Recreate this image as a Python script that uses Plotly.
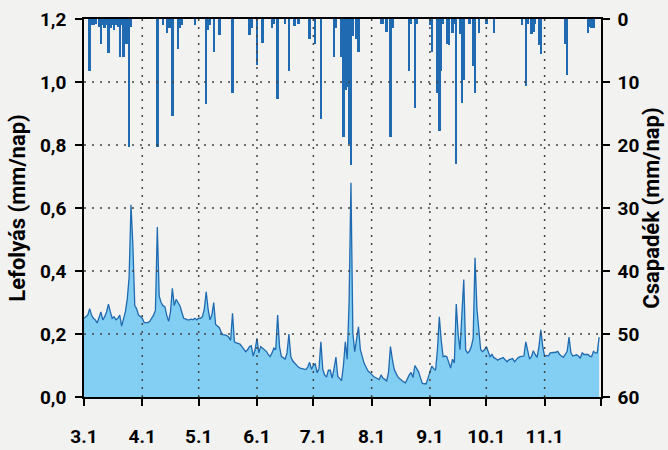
import plotly.graph_objects as go
import pandas as pd

# daily runoff (mm/day), 1 March .. 30 November
runoff = [
    0.25, 0.255, 0.26, 0.28, 0.26, 0.25, 0.245, 0.235, 0.25, 0.27,
    0.245, 0.255, 0.27, 0.295, 0.27, 0.25, 0.255, 0.245, 0.25, 0.26,
    0.225, 0.25, 0.27, 0.31, 0.38, 0.61, 0.48, 0.29, 0.28, 0.26,
    0.255, 0.25, 0.236, 0.235, 0.236, 0.24, 0.25, 0.26, 0.275, 0.54,
    0.32, 0.30, 0.29, 0.287, 0.26, 0.24, 0.27, 0.345, 0.29, 0.31,
    0.30, 0.29, 0.27, 0.25, 0.248, 0.245, 0.245, 0.247, 0.245, 0.25,
    0.245, 0.25, 0.25, 0.255, 0.28, 0.334, 0.28, 0.245, 0.26, 0.30,
    0.23, 0.225, 0.22, 0.205, 0.197, 0.197, 0.195, 0.19, 0.18, 0.266,
    0.175, 0.172, 0.17, 0.168, 0.16, 0.15, 0.144, 0.15, 0.16, 0.162,
    0.13, 0.15, 0.186, 0.14, 0.16, 0.155, 0.15, 0.145, 0.135, 0.128,
    0.14, 0.155, 0.15, 0.26, 0.16, 0.128, 0.125, 0.12, 0.14, 0.20,
    0.128, 0.115, 0.108, 0.10, 0.095, 0.092, 0.09, 0.088, 0.087, 0.095,
    0.11, 0.088, 0.10, 0.105, 0.077, 0.09, 0.175, 0.088, 0.07, 0.063,
    0.085, 0.085, 0.06, 0.09, 0.127, 0.065, 0.058, 0.052, 0.10, 0.175,
    0.12, 0.30, 0.68, 0.203, 0.144, 0.18, 0.223, 0.15, 0.125, 0.107,
    0.095, 0.083, 0.078, 0.07, 0.065, 0.062, 0.058, 0.055, 0.07, 0.06,
    0.056, 0.05, 0.08, 0.16, 0.12, 0.088, 0.075, 0.063, 0.058, 0.052,
    0.048, 0.045, 0.06, 0.07, 0.078, 0.062, 0.10, 0.09, 0.08, 0.06,
    0.043, 0.042, 0.042, 0.06, 0.077, 0.098, 0.09, 0.085, 0.15, 0.255,
    0.18, 0.128, 0.13, 0.128, 0.11, 0.092, 0.12, 0.108, 0.295, 0.20,
    0.15, 0.25, 0.373, 0.15, 0.14, 0.145, 0.16, 0.186, 0.442, 0.28,
    0.20, 0.15, 0.144, 0.15, 0.16, 0.145, 0.128, 0.135, 0.125, 0.122,
    0.117, 0.12, 0.122, 0.125, 0.118, 0.112, 0.118, 0.12, 0.122, 0.112,
    0.12, 0.125, 0.128, 0.13, 0.13, 0.175, 0.15, 0.12, 0.128, 0.147,
    0.135, 0.126, 0.16, 0.213, 0.16, 0.13, 0.132, 0.13, 0.14, 0.14,
    0.14, 0.142, 0.145, 0.135, 0.13, 0.126, 0.135, 0.145, 0.19, 0.14,
    0.13, 0.132, 0.134, 0.13, 0.123, 0.14, 0.135, 0.135, 0.135, 0.13,
    0.128, 0.145, 0.14, 0.14, 0.19,
]
dates = pd.date_range("2023-03-01", periods=len(runoff), freq="D")

# rainy days (day index from 1 March) and daily precipitation (mm/day)
rain_day = [3, 4, 5, 6, 8, 9, 10, 11, 12, 13, 14, 15, 16, 17, 18, 19, 20, 21, 22, 23,
            24, 25, 39, 42, 44, 45, 46, 47, 50, 51, 52, 59, 65, 66, 67, 69, 72, 79,
            88, 89, 92, 95, 100, 101, 103, 107, 109, 112, 114, 120, 123, 126, 133,
            134, 137, 138, 139, 140, 141, 142, 143, 145, 146, 158, 159, 161, 163, 164,
            173, 174, 176, 177, 184, 185, 188, 189, 190, 191, 193, 194, 196, 197, 198,
            200, 201, 202, 205, 207, 208, 210, 214, 218, 233, 235, 236, 238, 239, 240,
            242, 243, 256, 257, 268, 269, 270, 271]
rain_mm = [8.3, 1.0, 1.0, 0.8, 1.2, 4.0, 1.0, 1.5, 1.0, 5.4, 1.5, 1.0, 1.8, 1.0, 1.2, 6.1, 1.0, 6.1, 4.0, 4.0,
           20.3, 1.2, 20.3, 1.0, 2.2, 1.5, 1.5, 15.4, 4.8, 1.5, 1.0, 0.9, 13.5, 1.7, 1.0, 5.3, 2.5, 11.8,
           2.5, 1.5, 7.3, 3.8, 1.5, 0.8, 12.7, 0.8, 8.3, 1.1, 0.8, 3.2, 4.0, 15.8, 6.1,
           1.5, 6.0, 18.7, 11.2, 10.8, 19.8, 23.2, 2.7, 3.2, 5.3, 0.8, 0.8, 2.0, 18.7, 1.5,
           8.3, 0.8, 14.2, 0.8, 1.0, 5.3, 11.8, 17.7, 8.3, 0.8, 3.9, 4.1, 2.2, 0.8, 23.0,
           2.4, 13.4, 9.7, 0.8, 7.4, 11.8, 2.2, 0.8, 2.2, 1.0, 10.6, 0.8, 2.4, 2.0, 0.8,
           4.1, 5.6, 4.0, 8.9, 2.2, 1.2, 1.5, 1.5]
rain_dates = [dates[0] + pd.Timedelta(days=d) for d in rain_day]

month_ticks = ["2023-03-01", "2023-04-01", "2023-05-01", "2023-06-01", "2023-07-01",
               "2023-08-01", "2023-09-01", "2023-10-01", "2023-11-01", "2023-12-01"]
month_labels = ["3.1", "4.1", "5.1", "6.1", "7.1", "8.1", "9.1", "10.1", "11.1", ""]
flow_ticks = [0, 0.2, 0.4, 0.6, 0.8, 1.0, 1.2]
rain_ticks = [0, 10, 20, 30, 40, 50, 60]

FONT = "Roboto, Liberation Sans, sans-serif"
BLUE = "#1f6ab0"
BG = "#f2f2f0"

fig = go.Figure()

fig.add_trace(go.Scatter(
    x=dates, y=runoff,
    mode="lines",
    fill="tozeroy",
    fillcolor="#82cff3",
    line=dict(color=BLUE, width=1.3),
    yaxis="y",
))

fig.add_trace(go.Bar(
    x=rain_dates, y=rain_mm,
    width=86400000 * 1.3,
    marker=dict(color=BLUE, line=dict(width=0)),
    yaxis="y2",
))

# dotted grid drawn above the fill
grid = dict(color="#444444", width=1.5, dash="2px,6px")
for t in month_ticks[1:-1]:
    fig.add_shape(type="line", xref="x", yref="paper", x0=t, x1=t, y0=0, y1=1,
                  line=grid, layer="above")
for t in flow_ticks[1:-1]:
    fig.add_shape(type="line", xref="paper", yref="y", x0=0, x1=1, y0=t, y1=t,
                  line=grid, layer="above")

tickfont = dict(family=FONT, size=19, color="black", weight="bold")
titlefont = dict(family=FONT, size=22, color="black", weight="bold")

fig.update_layout(
    width=668, height=450,
    margin=dict(l=84, r=67, t=19, b=53),
    paper_bgcolor=BG,
    plot_bgcolor=BG,
    showlegend=False,
    separators=", ",
    bargap=0,
    xaxis=dict(
        type="date",
        range=["2023-03-01", "2023-12-01"],
        tickvals=month_ticks, ticktext=month_labels,
        ticks="outside", ticklen=7, tickwidth=1.5, tickcolor="black",
        ticklabelstandoff=14,
        showline=True, linecolor="black", linewidth=1.5, mirror=True,
        showgrid=False, zeroline=False, automargin=False,
        tickfont=tickfont,
    ),
    yaxis=dict(
        range=[0, 1.2],
        tickvals=flow_ticks, tickformat=".1f",
        ticks="outside", ticklen=7, tickwidth=1.5, tickcolor="black",
        ticklabelstandoff=5,
        showline=True, linecolor="black", linewidth=1.5,
        showgrid=False, zeroline=False, automargin=False,
        tickfont=tickfont,
        title=dict(text="Lefolyás (mm/nap)", font=titlefont, standoff=8),
    ),
    yaxis2=dict(
        overlaying="y", side="right",
        range=[60, 0],
        tickvals=rain_ticks,
        ticks="outside", ticklen=7, tickwidth=1.5, tickcolor="black",
        ticklabelstandoff=4,
        showline=True, linecolor="black", linewidth=1.5,
        showgrid=False, zeroline=False, automargin=False,
        tickfont=tickfont,
        title=dict(text="Csapadék (mm/nap)", font=titlefont, standoff=4),
    ),
)

# remove the default page margin so the figure fills the window
fig.write_html(
    "out.html",
    config={"displayModeBar": False},
    post_script="document.body.style.margin='0';document.body.style.background='%s';" % BG,
)
